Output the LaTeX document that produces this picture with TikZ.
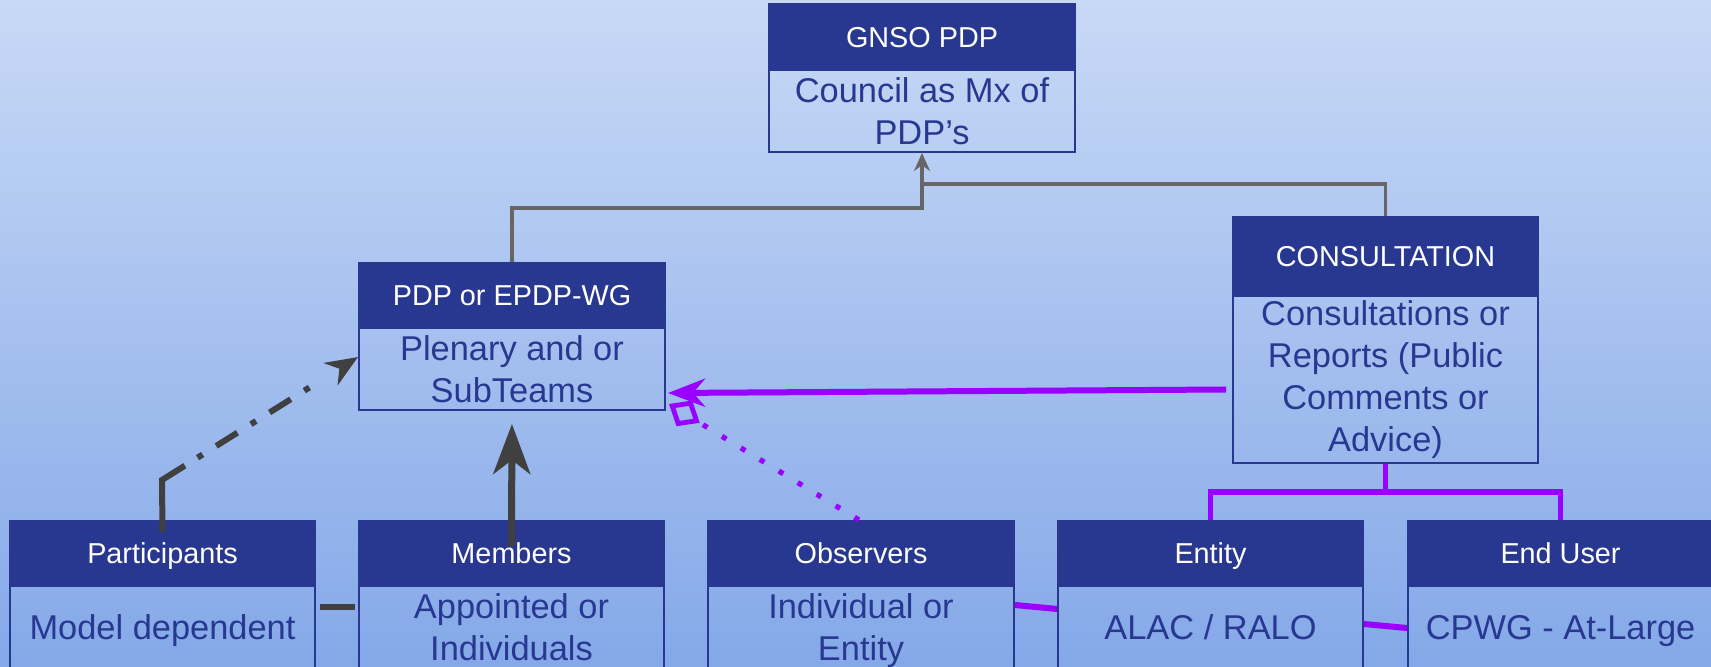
\documentclass[tikz,border=0pt]{standalone}
\usepackage{fontspec}
\setmainfont{Liberation Sans}
\usetikzlibrary{arrows.meta}
\definecolor{hdrblue}{RGB}{40,56,144}
\definecolor{bgtop}{RGB}{200,217,246}
\definecolor{bgbot}{RGB}{132,168,232}
\definecolor{conngray}{RGB}{102,102,102}
\definecolor{darkline}{RGB}{64,64,64}
\definecolor{purp}{RGB}{153,0,255}
\tikzset{
  hdr/.style={fill=hdrblue, draw=hdrblue, line width=1pt, text=white, inner sep=0pt,
    text height=10.4pt, text depth=0pt,
    font=\fontsize{14.4}{17}\selectfont},
  bdy/.style={draw=hdrblue, line width=1pt, text=hdrblue, inner sep=0pt, align=center,
    font=\fontsize{17.2}{21}\selectfont},
  grayline/.style={draw=conngray, line width=1.7pt},
  darkconn/.style={draw=darkline, line width=3pt},
  purpline/.style={draw=purp, line width=2.6pt},
}
\newcommand{\lh}{\vphantom{lpy}}
\begin{document}
\begin{tikzpicture}[x=0.5pt,y=-0.5pt]
\useasboundingbox (0,0) rectangle (1711,667);
\clip (0,0) rectangle (1711,667);
\shade[top color=bgtop, bottom color=bgbot] (0,0) rectangle (1711,667);

% GNSO
\node[hdr, minimum width=153pt, minimum height=33pt] (gh) at (922,37) {GNSO PDP};
\node[bdy, minimum width=153pt, minimum height=41pt] (gb) at (922,111) {Council as Mx of\\PDP’s};
% PDP
\node[hdr, minimum width=153pt, minimum height=32.5pt] (ph) at (512,295.5) {PDP or EPDP-WG};
\node[bdy, minimum width=153pt, minimum height=41pt] (pb) at (512,369) {Plenary and or\\SubTeams};
% CONSULTATION
\node[hdr, minimum width=152.5pt, minimum height=39.5pt] (ch) at (1385.5,256.5) {CONSULTATION};
\node[bdy, minimum width=152.5pt, minimum height=83.5pt] (cb) at (1385.5,379.5) {Consultations or\\Reports (Public\\Comments or\\Advice)};

% bottom row
\node[hdr, minimum width=152.5pt, minimum height=32.5pt] (parth) at (162.5,553.5) {Participants};
\node[bdy, minimum width=152.5pt, minimum height=45pt] (partb) at (162.5,631) {\lh Model dependent};
\node[hdr, minimum width=152.5pt, minimum height=32.5pt] (memh) at (511.5,553.5) {Members};
\node[bdy, minimum width=152.5pt, minimum height=45pt] (memb) at (511.5,631) {\lh Appointed or\\\lh Individuals};
\node[hdr, minimum width=153pt, minimum height=32.5pt] (obsh) at (861,553.5) {Observers};
\node[bdy, minimum width=153pt, minimum height=45pt] (obsb) at (861,631) {\lh Individual or\\\lh Entity};
\node[hdr, minimum width=152.5pt, minimum height=32.5pt] (enth) at (1210.5,553.5) {Entity};
\node[bdy, minimum width=152.5pt, minimum height=45pt] (entb) at (1210.5,631) {\lh ALAC / RALO};
\node[hdr, minimum width=152.5pt, minimum height=32.5pt] (endh) at (1560.5,553.5) {End User};
\node[bdy, minimum width=152.5pt, minimum height=45pt] (endb) at (1560.5,631) {\lh CPWG - At-Large};

% gray connectors to GNSO
\coordinate (j1) at (922,208);
\coordinate (j2) at (922,184);
\draw[grayline, -{Stealth[length=9pt,width=8pt]}] (ph.north) |- (j1) -- (gb.south);
\draw[grayline] (ch.north) |- (j2);

% Participants -> PDP (dash dot)
\coordinate (e1) at (162,480);
\draw[darkconn, dash pattern=on 39.5pt off 7.5pt on 3pt off 8pt on 12.5pt off 8pt on 3pt off 8pt on 12.5pt off 8pt on 3pt off 30pt,
  -{Stealth[length=16pt,width=13pt,inset=5pt]}]
  ([yshift=-6pt]parth.north) -- (e1) -- ([yshift=6pt]pb.west);

% Members -> PDP
\draw[darkconn, line width=3.5pt, shorten >=6.5pt,
  -{Stealth[length=25pt,width=18.5pt,inset=7pt]}]
  ([yshift=-13pt]memh.north) -- (pb.south);

% Participants -- Members
\draw[darkconn, line width=2.6pt, shorten <=2pt, shorten >=1.5pt]
  ([yshift=12pt]partb.east) -- ([yshift=12pt]memb.west);

% Consultation -> PDP (purple)
\draw[purpline, line width=3pt, -{Stealth[length=18.5pt,width=14pt,inset=6pt]}]
  ([xshift=-3pt,yshift=-5pt]cb.west) -- ([xshift=1pt,yshift=-12pt]pb.east);

% Observers -> PDP (dotted, diamond)
\draw[purpline, dash pattern=on 2.6pt off 8.5pt,
  -{Diamond[open,length=18pt,width=15pt,line width=2.4pt]}]
  ([xshift=-1pt]obsh.north) -- ([xshift=1.5pt,yshift=-17.5pt]pb.east);

% Consultation tree
\coordinate (t) at (1385.5,492);
\draw[purpline] (cb.south) -- (t);
\draw[purpline] (enth.north) |- (t);
\draw[purpline] (endh.north) |- (t);

% short purple links
\draw[purpline, line width=3pt] ([yshift=13pt]obsb.east) -- ([yshift=11pt]entb.west);
\draw[purpline, line width=3pt] ([yshift=3.5pt]entb.east) -- ([yshift=1.5pt]endb.west);
\end{tikzpicture}
\end{document}
